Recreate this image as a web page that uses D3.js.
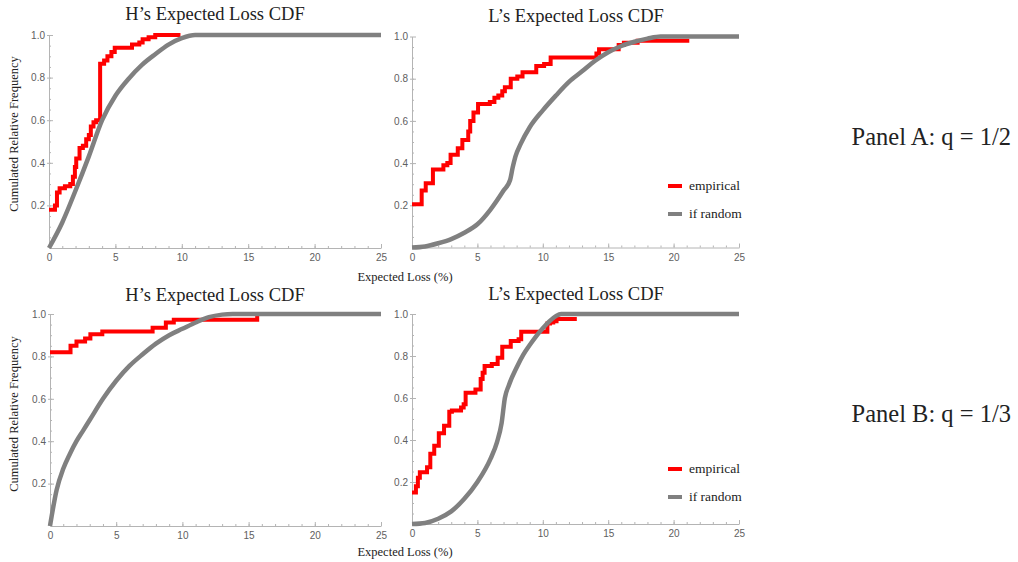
<!DOCTYPE html>
<html>
<head>
<meta charset="utf-8">
<script src="https://cdn.jsdelivr.net/npm/d3@7"></script>
<style>
    body { margin: 0; background: #fff; }
    .tick text { font-family: "Liberation Sans", Arial, sans-serif; font-size: 10px; fill: #606060; }
    .axis path, .axis line { stroke: #b4b4b4; stroke-width: 1; }
    .serif { font-family: "Liberation Serif", "Times New Roman", serif; fill: #222; }
</style>
</head>
<body>
<svg id="chart" width="1018" height="562"></svg>
<script>

// Values.

var xTickValues = [0, 5, 10, 15, 20, 25];
var yTickValues = [0.2, 0.4, 0.6, 0.8, 1.0];
var legendLabels = ["empirical", "if random"];
var panelLabels = ["Panel A: q = 1/2", "Panel B: q = 1/3"];

// Panel A, H (empirical step points, then "if random" curve)
var hAEmpX = [0, 0.45, 0.6, 0.8, 1.2, 1.6, 1.8, 1.95, 2.05, 2.3, 2.55, 2.8, 3.0, 3.15, 3.35, 3.55, 3.85, 4.15, 4.4, 4.7, 4.95, 6.25, 6.8, 7.05, 7.5, 8.0, 9.9];
var hAEmpY = [0.18, 0.2, 0.26, 0.28, 0.29, 0.3, 0.335, 0.38, 0.42, 0.47, 0.48, 0.51, 0.53, 0.57, 0.59, 0.6, 0.865, 0.88, 0.9, 0.92, 0.94, 0.955, 0.965, 0.98, 0.99, 1.0, 1.0];
var hARandX = [0, 1, 2, 3, 4, 5, 6, 7, 8, 9, 10, 11, 25];
var hARandY = [0, 0.12, 0.27, 0.43, 0.6, 0.715, 0.795, 0.86, 0.91, 0.955, 0.985, 1, 1];

// Panel A, L
var lAEmpX = [0, 0.74, 1.05, 1.6, 2.4, 2.7, 2.95, 3.5, 3.85, 4.3, 4.45, 4.7, 5.05, 5.95, 6.3, 6.6, 6.9, 7.1, 7.55, 8.05, 8.45, 9.5, 10.1, 10.6, 14.1, 14.3, 15.8, 16.2, 17.25, 21.2];
var lAEmpY = [0.205, 0.27, 0.305, 0.37, 0.39, 0.4, 0.44, 0.47, 0.51, 0.55, 0.6, 0.64, 0.68, 0.69, 0.71, 0.72, 0.74, 0.76, 0.8, 0.81, 0.83, 0.86, 0.87, 0.9, 0.92, 0.94, 0.96, 0.97, 0.98, 0.98];
var lARandX = [0, 1, 2, 3, 4, 5, 6, 7, 7.5, 7.7, 7.9, 8.3, 9, 10, 11, 12, 13, 14, 15, 16, 17, 18, 19, 25];
var lARandY = [0, 0.005, 0.02, 0.04, 0.07, 0.11, 0.18, 0.27, 0.32, 0.38, 0.43, 0.49, 0.57, 0.65, 0.72, 0.785, 0.835, 0.885, 0.925, 0.955, 0.975, 0.99, 1, 1];

// Panel B, H
var hBEmpX = [0, 1.55, 2.0, 2.65, 3.05, 3.95, 7.75, 8.75, 9.35, 15.65, 15.8];
var hBEmpY = [0.82, 0.85, 0.87, 0.885, 0.905, 0.918, 0.935, 0.96, 0.973, 0.984, 0.984];
var hBRandX = [0, 0.5, 1, 1.5, 2, 2.5, 3, 4, 5, 6, 7, 8, 9, 10, 11, 12, 13, 13.8, 25];
var hBRandY = [0, 0.17, 0.27, 0.34, 0.4, 0.45, 0.5, 0.6, 0.685, 0.755, 0.81, 0.86, 0.9, 0.93, 0.96, 0.985, 0.997, 1, 1];

// Panel B, L
var lBEmpX = [0, 0.3, 0.45, 0.6, 1.15, 1.4, 1.7, 2.05, 2.45, 2.85, 3.05, 3.75, 3.95, 4.1, 4.85, 5.25, 5.4, 5.55, 6.1, 6.55, 6.9, 7.55, 8.15, 8.35, 10.35, 10.55, 10.8, 11.05, 12.6];
var lBEmpY = [0.15, 0.18, 0.22, 0.246, 0.27, 0.335, 0.373, 0.432, 0.468, 0.535, 0.54, 0.555, 0.57, 0.625, 0.64, 0.69, 0.72, 0.752, 0.762, 0.792, 0.844, 0.871, 0.88, 0.916, 0.955, 0.96, 0.965, 0.976, 0.976];
var lBRandX = [0, 1, 2, 3, 4, 5, 6, 6.5, 6.85, 7.1, 7.4, 8, 8.5, 9, 9.5, 10, 10.5, 11, 11.4, 25];
var lBRandY = [0, 0.005, 0.025, 0.06, 0.12, 0.2, 0.31, 0.39, 0.48, 0.6, 0.66, 0.745, 0.805, 0.852, 0.895, 0.932, 0.965, 0.99, 1, 1];

var svg = d3.select("#chart");

function zip (xs, ys) { // Pair up the x and y arrays.
    return xs.map(function (x, i) { return [x, ys[i]]; });
}

function drawPanel (p) {

    var x = d3.scaleLinear().domain([0, 25]).range([p.left, p.right]);
    var y = d3.scaleLinear().domain([0, 1]).range([p.bottom, p.top]);

    var g = svg.append("g");

    // minor ticks first, major axis on top
    g.append("g")
        .attr("class", "axis")
        .attr("transform", "translate(0," + p.bottom + ")")
        .call(d3.axisBottom(x).tickValues(d3.range(0, 26)).tickSize(-2).tickFormat(""))
        .select(".domain").remove();

    g.append("g")
        .attr("class", "axis")
        .attr("transform", "translate(" + p.left + ",0)")
        .call(d3.axisLeft(y).tickValues(d3.range(0.05, 1.0, 0.05)).tickSize(-2).tickFormat(""))
        .select(".domain").remove();

    g.append("g")
        .attr("class", "axis")
        .attr("transform", "translate(0," + p.bottom + ")")
        .call(d3.axisBottom(x).tickValues(xTickValues).tickSize(-4).tickSizeOuter(0).tickPadding(6));

    var yAxis = g.append("g")
        .attr("class", "axis")
        .attr("transform", "translate(" + p.left + ",0)")
        .call(d3.axisLeft(y).tickValues(yTickValues).tickSize(-4).tickSizeOuter(0).tickPadding(4).tickFormat(d3.format(".1f")));
    yAxis.selectAll(".tick line").attr("x2", 4);

    // little outward stubs at the y labels, like the reference
    yAxis.selectAll(".tick").append("line")
        .attr("x1", 0).attr("x2", -2);

    g.append("text")
        .attr("class", "serif")
        .attr("x", p.titleX)
        .attr("y", p.titleY)
        .attr("text-anchor", "middle")
        .attr("font-size", 18.5)
        .text(p.title);

    var line = d3.line()
        .x(function (d) { return x(d[0]); })
        .y(function (d) { return y(d[1]); });

    g.append("path")
        .datum(zip(p.empX, p.empY))
        .attr("fill", "none")
        .attr("stroke", "#ff0000")
        .attr("stroke-width", 4)
        .attr("d", line.curve(d3.curveStepAfter));

    g.append("path")
        .datum(zip(p.randX, p.randY))
        .attr("fill", "none")
        .attr("stroke", "#808080")
        .attr("stroke-width", 4.5)
        .attr("d", line.curve(d3.curveMonotoneX));

    if (p.legendY) {
        var colors = ["#ff0000", "#808080"];
        legendLabels.forEach(function (label, i) {
            var ly = p.legendY + i * 28;
            g.append("line")
                .attr("x1", 668).attr("x2", 682)
                .attr("y1", ly).attr("y2", ly)
                .attr("stroke", colors[i])
                .attr("stroke-width", 4);
            g.append("text")
                .attr("class", "serif")
                .attr("x", 689)
                .attr("y", ly + 4)
                .attr("font-size", 13.5)
                .text(label);
        });
    }
}

var panels = [
    { left: 49, right: 381, bottom: 248, top: 35, title: "H\u2019s Expected Loss CDF", titleX: 215, titleY: 20, empX: hAEmpX, empY: hAEmpY, randX: hARandX, randY: hARandY },
    { left: 412, right: 739, bottom: 247.5, top: 36.5, title: "L\u2019s Expected Loss CDF", titleX: 576, titleY: 21.5, empX: lAEmpX, empY: lAEmpY, randX: lARandX, randY: lARandY, legendY: 186 },
    { left: 50, right: 381, bottom: 526, top: 314, title: "H\u2019s Expected Loss CDF", titleX: 215, titleY: 300.5, empX: hBEmpX, empY: hBEmpY, randX: hBRandX, randY: hBRandY },
    { left: 412, right: 739, bottom: 524, top: 314, title: "L\u2019s Expected Loss CDF", titleX: 576, titleY: 300, empX: lBEmpX, empY: lBEmpY, randX: lBRandX, randY: lBRandY, legendY: 469 }
];

panels.forEach(drawPanel);

// shared axis titles for each row
[134, 414].forEach(function (cy) {
    svg.append("text")
        .attr("class", "serif")
        .attr("transform", "translate(18," + cy + ") rotate(-90)")
        .attr("text-anchor", "middle")
        .attr("font-size", 12.5)
        .attr("fill", "#444")
        .text("Cumulated Relative Frequency");
});

[281, 556].forEach(function (by) {
    svg.append("text")
        .attr("class", "serif")
        .attr("x", 405)
        .attr("y", by)
        .attr("text-anchor", "middle")
        .attr("font-size", 12.5)
        .text("Expected Loss (%)");
});

[145, 421.5].forEach(function (by, i) {
    svg.append("text")
        .attr("class", "serif")
        .attr("x", 1011)
        .attr("y", by)
        .attr("text-anchor", "end")
        .attr("font-size", 24.5)
        .attr("fill", "#111")
        .text(panelLabels[i]);
});

</script>
</body>
</html>
